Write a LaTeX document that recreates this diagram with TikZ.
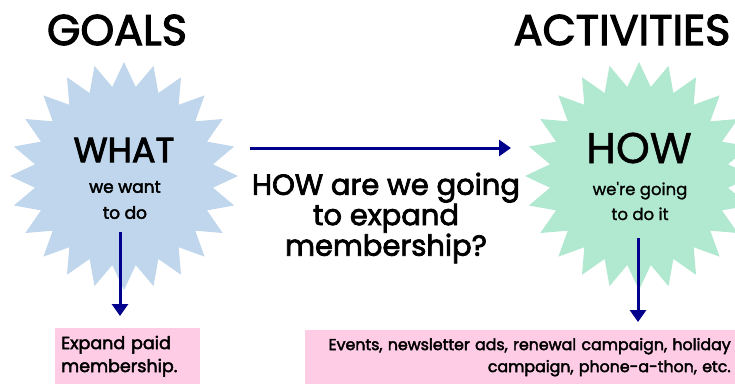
\documentclass[tikz,border=0pt]{standalone}
\usepackage{fontspec}
\setmainfont{Poppins}
\newfontfamily\heavy{Poppins}[FakeBold=2.6]
\newfontfamily\medium{Poppins}[FakeBold=1.2]
\usetikzlibrary{shapes.geometric,arrows.meta}
\definecolor{starblue}{RGB}{192,214,236}
\definecolor{stargreen}{RGB}{176,232,208}
\definecolor{navyline}{RGB}{0,0,140}
\definecolor{boxpink}{RGB}{255,204,230}
\begin{document}
\begin{tikzpicture}[x=1pt,y=-1pt,
  burst/.style={star, star points=24, star point ratio=1.27, minimum size=228pt, inner sep=0pt, draw=none},
  title/.style={font=\heavy\fontsize{43}{43}\selectfont},
  bigword/.style={font=\heavy\fontsize{35}{35}\selectfont},
  howword/.style={font=\medium\fontsize{43}{43}\selectfont},
  smallword/.style={font=\heavy\fontsize{17}{26}\selectfont, align=center},
  howsmall/.style={font=\medium\fontsize{16.5}{25}\selectfont, align=center},
  midtext/.style={font=\heavy\fontsize{29}{28}\selectfont, align=center},
  boxtext/.style={font=\heavy\fontsize{17.5}{23}\selectfont},
  boxtextb/.style={font=\heavy\fontsize{15.8}{22}\selectfont},
  flow/.style={draw=navyline, line width=3pt, -{Triangle[width=16pt,length=12pt]}}
]
\useasboundingbox (0,0) rectangle (735,384);
\fill[white] (0,0) rectangle (735,384);
% stars
\node[burst, fill=starblue] (what) at (124,176) {};
\node[burst, fill=stargreen] (how) at (639,176) {};
% titles
\node[title] (goals) at (117,30) {GOALS};
\node[title] (activities) at (622,30) {ACTIVITIES};
% star texts
\node[bigword] (whatword) at (124,150) {WHAT};
\node[smallword] (whatsub) at (125,200) {we want\\to do};
\node[howword] (howword) at (639,148) {HOW};
\node[howsmall] (howsub) at (640,201) {we're going\\to do it};
% middle question
\node[midtext] (question) at (386,218) {HOW are we going\\to expand\\membership?};
% boxes
\node[fill=boxpink, anchor=north west, minimum width=145pt, minimum height=56pt,
      text width=133pt, inner sep=6pt, align=left, boxtext] (goalbox) at (55,328)
      {Expand paid\\membership.};
\node[fill=boxpink, anchor=north west, minimum width=435pt, minimum height=54pt,
      text width=416pt, inner xsep=9.5pt, inner ysep=4pt, align=right, boxtextb] (actbox) at (305,330)
      {Events, newsletter ads, renewal campaign, holiday\\campaign, phone-a-thon, etc.};
% connectors
\coordinate (hstart) at (250,148);
\coordinate (hend) at (511,148);
\draw[flow] (hstart) -- (hend);
\coordinate (lstart) at (120,232);
\coordinate (lend) at (120,316);
\draw[flow] (lstart) -- (lend);
\coordinate (rstart) at (638,238);
\coordinate (rend) at (638,322);
\draw[flow] (rstart) -- (rend);
\end{tikzpicture}
\end{document}
